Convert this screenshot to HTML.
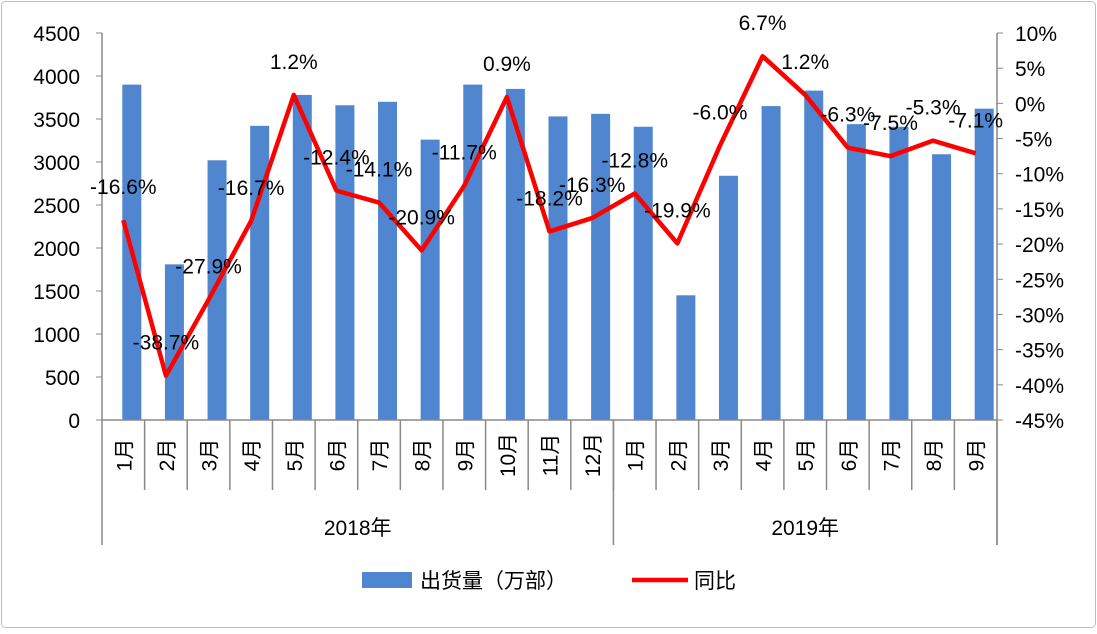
<!DOCTYPE html>
<html><head><meta charset="utf-8"><style>
body{margin:0;background:#fff;}
svg text{font-family:"Liberation Sans","Noto Sans CJK SC",sans-serif;fill:#000;}
</style></head><body>
<svg width="1097" height="629" xmlns="http://www.w3.org/2000/svg">
<rect x="1.5" y="1.5" width="1094" height="626" rx="4" fill="#fff" stroke="#bfbfbf"/>
<g id="g"></g>
</svg>
<script>
const months=["1月","2月","3月","4月","5月","6月","7月","8月","9月","10月","11月","12月","1月","2月","3月","4月","5月","6月","7月","8月","9月"];
const shipments=[3900,1810,3020,3420,3780,3660,3700,3260,3900,3850,3530,3560,3410,1450,2840,3650,3830,3440,3410,3090,3620];
const yoy=[-16.6,-38.7,-27.9,-16.7,1.2,-12.4,-14.1,-20.9,-11.7,0.9,-18.2,-16.3,-12.8,-19.9,-6.0,6.7,1.2,-6.3,-7.5,-5.3,-7.1];
const leftTicks=[0,500,1000,1500,2000,2500,3000,3500,4000,4500];
const rightTicks=[10,5,0,-5,-10,-15,-20,-25,-30,-35,-40,-45];
const years=[{label:"2018年",start:0,end:12},{label:"2019年",start:12,end:21}];
const NS="http://www.w3.org/2000/svg";
const g=document.getElementById('g');
const L=102,R=997,T=33,B=420;
const slot=(R-L)/months.length;
const xc=i=>L+slot*(i+0.5);
const yl=v=>B-(v/4500)*(B-T);
const yr=v=>B-((v+45)/55)*(B-T);
function el(t,a,p){const e=document.createElementNS(NS,t);for(const k in a)e.setAttribute(k,a[k]);(p||g).appendChild(e);return e;}
leftTicks.forEach(v=>{
  const t=el('text',{x:L-22,y:yl(v)+8,'text-anchor':'end','font-size':'21'});t.textContent=v;
  
  
  el('line',{x1:L-6,x2:L,y1:yl(v),y2:yl(v),stroke:'#898989'});
});
rightTicks.forEach(v=>{
  const t=el('text',{x:R+18,y:yr(v)+8,'font-size':'21'});t.textContent=v+'%';
  
  
  el('line',{x1:R,x2:R+6,y1:yr(v),y2:yr(v),stroke:'#898989'});
});
shipments.forEach((v,i)=>{
  const r=el('rect',{x:xc(i)+8.5-9.5,y:yl(v),width:19,height:B-yl(v),fill:'#4f86cf'});
  
  
});
el('line',{x1:L,x2:L,y1:T,y2:545,stroke:'#898989','stroke-width':1.5});
el('line',{x1:R,x2:R,y1:T,y2:545,stroke:'#898989','stroke-width':1.5});
el('line',{x1:L,x2:R,y1:B,y2:B,stroke:'#898989','stroke-width':1.5});
months.forEach((m,i)=>{
  if(i>0)el('line',{x1:L+slot*i,x2:L+slot*i,y1:B,y2:490,stroke:'#898989','stroke-width':1.5});
  const t=el('text',{x:0,y:0,'font-size':'21','text-anchor':'middle',transform:`translate(${xc(i)+8},455) rotate(-90)`});
  t.textContent=m;
  
  
});
years.forEach(y=>{
  const x=L+slot*y.end;
  el('line',{x1:x,x2:x,y1:B,y2:545,stroke:'#898989','stroke-width':1.5});
  const t=el('text',{x:(L+slot*y.start+x)/2,y:535,'font-size':'21','text-anchor':'middle'});t.textContent=y.label;
  
  
});
const pl=el('polyline',{points:yoy.map((v,i)=>xc(i)+','+yr(v)).join(' '),fill:'none',stroke:'#ff0000','stroke-width':4.5,'stroke-linejoin':'round'});


yoy.forEach((v,i)=>{
  const t=el('text',{x:xc(i),y:yr(v)-26,'font-size':'21','text-anchor':'middle'});
  t.textContent=v.toFixed(1)+'%';
  
  
});
const lg=el('g',{});


el('rect',{x:362,y:572,width:50,height:16,fill:'#4f86cf'},lg);
const t1=el('text',{x:420,y:588,'font-size':'21'},lg);t1.textContent='出货量（万部）';
el('line',{x1:632,x2:688,y1:580,y2:580,stroke:'#ff0000','stroke-width':4.5},lg);
const t2=el('text',{x:694,y:588,'font-size':'21'},lg);t2.textContent='同比';
</script>
</body></html>
